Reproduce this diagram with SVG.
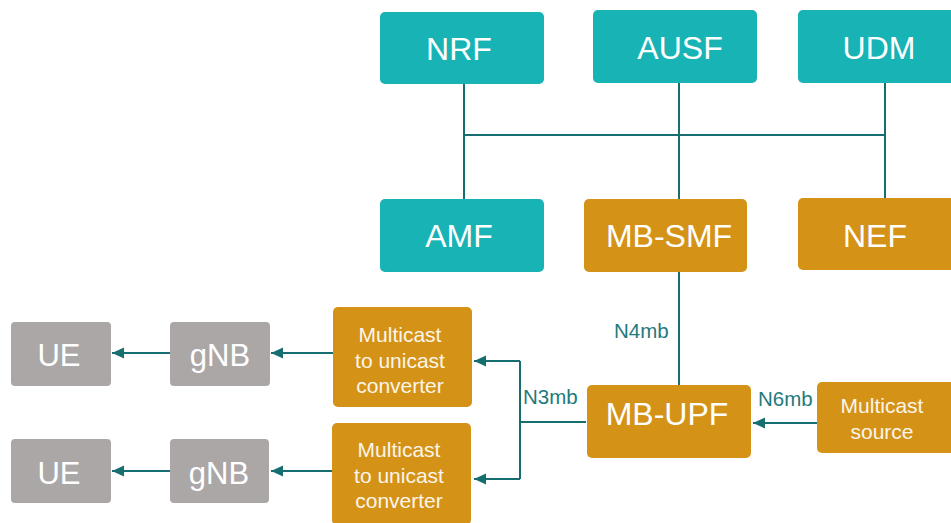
<svg xmlns="http://www.w3.org/2000/svg" width="951" height="523" viewBox="0 0 951 523">
<defs>
<style>
.teal{fill:#17b3b5}
.orange{fill:#d49317}
.gray{fill:#aba7a6}
.big{font-family:"Liberation Sans",Arial,sans-serif;font-size:32px;fill:#ffffff;text-anchor:middle}
.mid{font-family:"Liberation Sans",Arial,sans-serif;font-size:31px;fill:#ffffff;text-anchor:middle}
.small{font-family:"Liberation Sans",Arial,sans-serif;font-size:21px;fill:#fbf5ea;text-anchor:middle}
.lbl{font-family:"Liberation Sans",Arial,sans-serif;font-size:20.5px;fill:#1f7a7c}
.ln{stroke:#176e70;stroke-width:2;fill:none}
</style>
<marker id="ah" viewBox="0 0 12 12" refX="12" refY="6" markerWidth="12" markerHeight="12" markerUnits="userSpaceOnUse" orient="auto">
<path d="M0,0.5 L12,6 L0,11.5 z" fill="#176e70"/>
</marker>
</defs>
<rect width="951" height="523" fill="#ffffff"/>
<g id="connectors">
<path class="ln" d="M464,84 V199 M679,83 V199 M885,83 V198 M464,135 H885"/>
<path class="ln" d="M679,272 V385"/>
<path class="ln" d="M586,422 H520 M520,361 V479"/>
<path class="ln" d="M520,361 H474" marker-end="url(#ah)"/>
<path class="ln" d="M520,479 H474" marker-end="url(#ah)"/>
<path class="ln" d="M817,423 H753" marker-end="url(#ah)"/>
<path class="ln" d="M333,353 H271" marker-end="url(#ah)"/>
<path class="ln" d="M170,353 H112" marker-end="url(#ah)"/>
<path class="ln" d="M332,471 H271" marker-end="url(#ah)"/>
<path class="ln" d="M170,471 H112" marker-end="url(#ah)"/>
<text class="lbl" x="614" y="338">N4mb</text>
<text class="lbl" x="523" y="404">N3mb</text>
<text class="lbl" x="758" y="406">N6mb</text>
</g>
<g id="NRF"><rect class="teal" x="380" y="12" width="164" height="72" rx="5"/><text class="big" x="459" y="60">NRF</text></g>
<g id="AUSF"><rect class="teal" x="593" y="10" width="164" height="73" rx="5"/><text class="big" x="680" y="59">AUSF</text></g>
<g id="UDM"><rect class="teal" x="798" y="10" width="160" height="73" rx="5"/><text class="big" x="879" y="59">UDM</text></g>
<g id="AMF"><rect class="teal" x="380" y="199" width="164" height="73" rx="5"/><text class="big" x="459" y="247">AMF</text></g>
<g id="MB-SMF"><rect class="orange" x="584" y="199" width="163" height="73" rx="5"/><text class="big" x="669" y="247">MB-SMF</text></g>
<g id="NEF"><rect class="orange" x="798" y="198" width="160" height="72" rx="5"/><text class="big" x="875" y="247">NEF</text></g>
<g id="MB-UPF"><rect class="orange" x="587" y="385" width="164" height="73" rx="5"/><text class="big" x="667" y="425">MB-UPF</text></g>
<g id="MulticastSource"><rect class="orange" x="817" y="382" width="140" height="71" rx="5"/><text class="small" x="882" y="413">Multicast</text><text class="small" x="882" y="439">source</text></g>
<g id="Converter1"><rect class="orange" x="333" y="307" width="139" height="100" rx="5"/><text class="small" x="400" y="342">Multicast</text><text class="small" x="400" y="368">to unicast</text><text class="small" x="400" y="393">converter</text></g>
<g id="Converter2"><rect class="orange" x="332" y="423" width="139" height="102" rx="5"/><text class="small" x="399" y="457">Multicast</text><text class="small" x="399" y="483">to unicast</text><text class="small" x="399" y="508">converter</text></g>
<g id="gNB1"><rect class="gray" x="170" y="322" width="100" height="64" rx="4"/><text class="mid" x="220" y="366">gNB</text></g>
<g id="gNB2"><rect class="gray" x="170" y="439" width="99" height="64" rx="4"/><text class="mid" x="219" y="484">gNB</text></g>
<g id="UE1"><rect class="gray" x="11" y="322" width="100" height="64" rx="4"/><text class="mid" x="59" y="366">UE</text></g>
<g id="UE2"><rect class="gray" x="11" y="439" width="100" height="64" rx="4"/><text class="mid" x="59" y="484">UE</text></g>
</svg>
